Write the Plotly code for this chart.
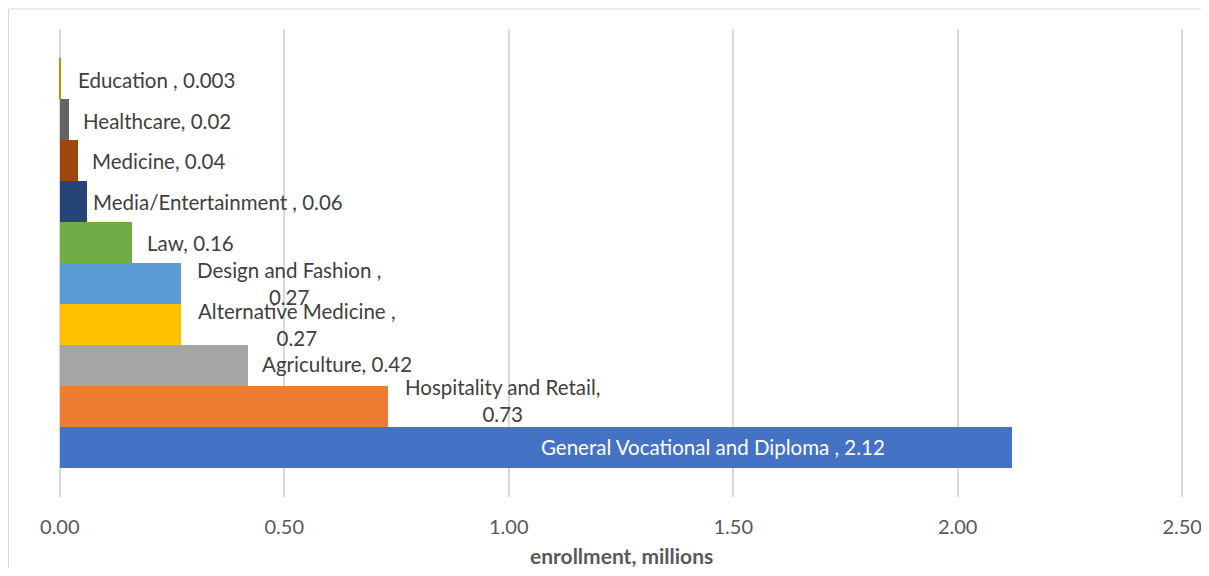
import plotly.graph_objects as go

categories = ["General Vocational and Diploma", "Hospitality and Retail", "Agriculture",
              "Alternative Medicine", "Design and Fashion", "Law", "Media/Entertainment",
              "Medicine", "Healthcare", "Education"]
values = [2.12, 0.73, 0.42, 0.27, 0.27, 0.16, 0.06, 0.04, 0.02, 0.003]
label_texts = ["General Vocational and Diploma , 2.12", "Hospitality and Retail,<br>0.73",
               "Agriculture, 0.42", "Alternative Medicine ,<br>0.27", "Design and Fashion ,<br>0.27",
               "Law, 0.16", "Media/Entertainment , 0.06", "Medicine, 0.04", "Healthcare, 0.02",
               "Education , 0.003"]
colors = ["#4472C4", "#ED7D31", "#A5A5A5", "#FFC000", "#5B9BD5", "#70AD47",
          "#264478", "#9E480E", "#636363", "#BF9000"]
x_ticks = [0, 0.5, 1.0, 1.5, 2.0, 2.5]
x_tick_labels = ["0.00", "0.50", "1.00", "1.50", "2.00", "2.50"]
x_title = "enrollment, millions"

FONT = "Lato"
TXT = "#404040"
W, H = 1201, 560
ML, MR, MT, MB = 50, 25, 21, 71
PW, PH = W - ML - MR, H - MT - MB

fig = go.Figure()
fig.add_trace(go.Bar(
    y=categories, x=values, orientation="h",
    marker=dict(color=colors, line=dict(width=0)),
    hoverinfo="x+y", showlegend=False,
))

# label offsets (pixels) per bar: (xshift, yshift, anchor)
offsets = {
    0: (-299, 0, "center"),
    1: (115, 6, "center"),
    2: (12, 1, "left"),
    3: (116, 0, "center"),
    4: (108, 0, "center"),
    5: (13, 0, "left"),
    6: (4, 0, "left"),
    7: (12, 0, "left"),
    8: (12, -1, "left"),
    9: (15, -1, "left"),
}
for i, (cat, v, t) in enumerate(zip(categories, values, label_texts)):
    xs, ys, anc = offsets[i]
    fig.add_annotation(
        x=v, y=cat, text=t, showarrow=False, xanchor=anc, yanchor="middle",
        xshift=xs, yshift=ys, align="center",
        font=dict(family=FONT, size=20.5, color="#FFFFFF" if i == 0 else TXT),
    )

# axis title
fig.add_annotation(
    x=0.5, y=0, xref="paper", yref="paper", text=f"<b>{x_title}</b>",
    showarrow=False, xanchor="center", yanchor="middle", yshift=-58,
    font=dict(family=FONT, size=21, color="#595959"),
)

fig.update_layout(
    width=W, height=H,
    margin=dict(l=ML, r=MR, t=MT, b=MB, autoexpand=False),
    paper_bgcolor="white", plot_bgcolor="white",
    bargap=0,
    xaxis=dict(
        range=[-0.004, 2.504], tickvals=x_ticks, ticktext=x_tick_labels,
        showgrid=True, gridcolor="#D9D9D9", gridwidth=1.5, zeroline=False,
        showline=False, ticks="", ticklabelstandoff=16, automargin=False,
        ticklabeloverflow="allow",
        tickfont=dict(family=FONT, size=20, color="#595959"),
    ),
    yaxis=dict(
        range=[-1.22, 10.22], showticklabels=False, showgrid=False,
        zeroline=False, showline=False, ticks="", automargin=False,
    ),
    shapes=[dict(type="rect", xref="paper", yref="paper",
                 x0=(0.5 - ML) / PW, x1=1.2, y0=-0.3, y1=1 + (MT - 1) / PH,
                 line=dict(color="#D9D9D9", width=1), fillcolor="rgba(0,0,0,0)",
                 layer="below")],
)

fig.write_html("out.html")
